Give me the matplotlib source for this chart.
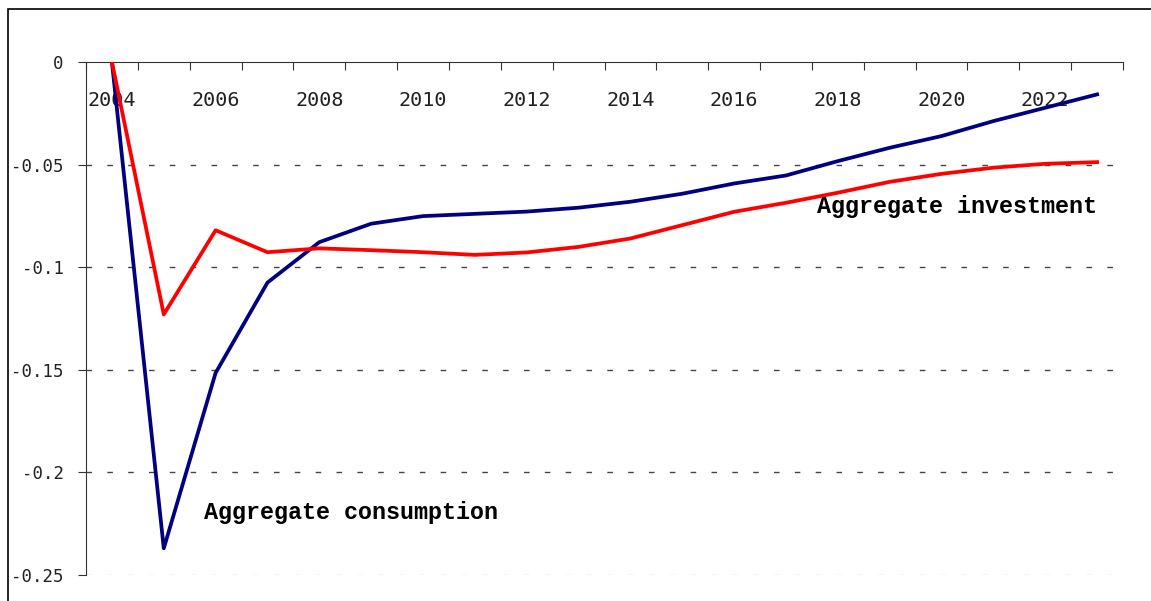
import numpy as np
import matplotlib
matplotlib.use("Agg")
import matplotlib.pyplot as plt
from matplotlib.patches import Rectangle

# Data
years = list(range(2004, 2024))
consumption = [0.0, -0.237, -0.1515, -0.1075, -0.0878, -0.0788, -0.0751, -0.0740,
               -0.0729, -0.0710, -0.0681, -0.0642, -0.0592, -0.0553, -0.0483,
               -0.0418, -0.0361, -0.0288, -0.0223, -0.0158]
investment = [0.0, -0.123, -0.0820, -0.0927, -0.0908, -0.0917, -0.0927, -0.0940,
              -0.0928, -0.0901, -0.0860, -0.0795, -0.0730, -0.0686, -0.0637,
              -0.0584, -0.0545, -0.0515, -0.0496, -0.0488]
ytick_vals = [0, -0.05, -0.1, -0.15, -0.2, -0.25]
ytick_labels = ["0", "-0.05", "-0.1", "-0.15", "-0.2", "-0.25"]

W, H = 1151, 601
fig = plt.figure(figsize=(W / 100, H / 100), dpi=100)
ax = fig.add_axes([86 / W, 1 - 575 / H, (1123 - 86) / W, (575 - 62) / H])

x = np.arange(len(years))

# dashed gridlines
for v in ytick_vals[1:]:
    alpha = 0.25 if v == -0.25 else 1.0
    ax.axhline(v, color="#444444", lw=1.0, dashes=(4, 11), alpha=alpha, zorder=1)

ax.plot(x, consumption, color="#000080", lw=2.7, zorder=3)
ax.plot(x, investment, color="#ff0000", lw=2.7, zorder=3)

ax.set_xlim(-0.5, len(years) - 0.5)
ax.set_ylim(-0.25, 0)

# axes styling
for s in ["top", "right"]:
    ax.spines[s].set_visible(False)
ax.spines["bottom"].set_position(("data", 0))
ax.spines["bottom"].set_color("#333333")
ax.spines["left"].set_color("#333333")

# x ticks at category boundaries, labels at centres of even years
ax.set_xticks(np.arange(-0.5, len(years), 1.0))
ax.set_xticklabels([])
ax.set_xticks(x[::2], minor=True)
ax.set_xticklabels([str(y) for y in years[::2]], minor=True,
                   fontfamily="DejaVu Sans Mono", fontsize=14.5, color="#222222")
ax.tick_params(axis="x", which="major", direction="out", length=6, color="#333333")
ax.tick_params(axis="x", which="minor", length=0, pad=21)

ax.set_yticks(ytick_vals)
ax.set_yticklabels(ytick_labels, fontfamily="DejaVu Sans Mono", fontsize=12.5,
                   color="#222222")
ax.tick_params(axis="y", direction="out", length=6, pad=10, color="#333333")

# annotations
ax.text(1.78, -0.2195, "Aggregate consumption", fontfamily="Liberation Mono",
        fontweight="bold", fontsize=16.8, ha="left", va="center", color="black")
ax.text(13.6, -0.0705, "Aggregate investment", fontfamily="Liberation Mono",
        fontweight="bold", fontsize=16.8, ha="left", va="center", color="black")

# outer frame
fig.patches.append(Rectangle((8 / W, -0.05), 1.1, 1 - 9 / H + 0.05,
                             transform=fig.transFigure, fill=False,
                             edgecolor="black", lw=1.2))

fig.savefig("out.png", dpi=100)
